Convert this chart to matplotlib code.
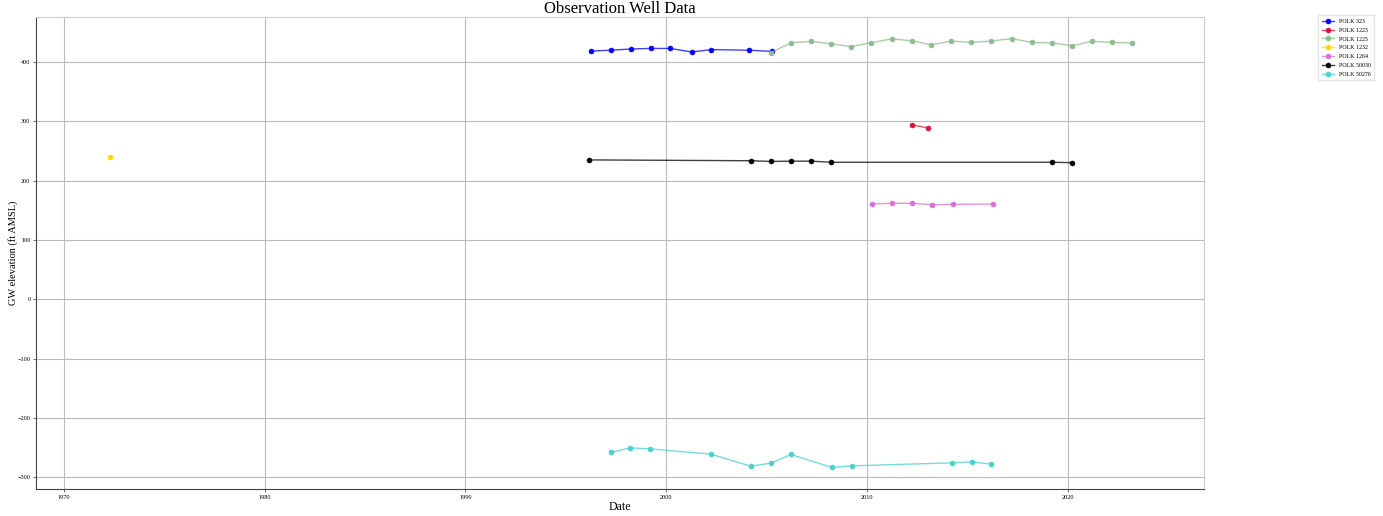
import matplotlib
matplotlib.use("Agg")
import matplotlib.pyplot as plt
import matplotlib.dates as mdates
from matplotlib.colors import to_rgba
import pandas as pd

plt.rcParams['font.family'] = ['Liberation Serif', 'DejaVu Serif']

# ---- data ----
polk_323_dates = ["1996-03-25", "1997-03-25", "1998-03-25", "1999-03-25", "2000-03-15",
                  "2001-04-05", "2002-04-01", "2004-02-15", "2005-04-01"]
polk_323_vals = [418.5, 420, 422, 423, 423, 417, 421, 420, 418]

polk_1223_dates = ["2012-03-28", "2013-01-15"]
polk_1223_vals = [294, 289]

polk_1225_dates = ["2005-03-18", "2006-03-22", "2007-03-22", "2008-03-22", "2009-03-22",
                   "2010-03-15", "2011-03-25", "2012-03-25", "2013-03-10", "2014-03-10",
                   "2015-03-10", "2016-03-05", "2017-03-15", "2018-03-25", "2019-03-25",
                   "2020-03-18", "2021-03-18", "2022-03-15", "2023-03-22"]
polk_1225_vals = [416, 432.5, 435, 431, 426, 432.5, 439, 436, 429, 435.5,
                  433, 435.5, 439.5, 433, 432.5, 427.5, 435, 433, 432.5]

polk_1232_dates = ["1972-04-10"]
polk_1232_vals = [240]

polk_1264_dates = ["2010-04-01", "2011-04-01", "2012-03-28", "2013-04-05", "2014-04-08", "2016-04-08"]
polk_1264_vals = [160.7, 161.8, 161.8, 159.5, 160, 160.7]

polk_50030_dates = ["1996-02-18", "2004-03-25", "2005-03-18", "2006-03-28", "2007-03-22",
                    "2008-03-22", "2019-03-18", "2020-03-18"]
polk_50030_vals = [235, 233.6, 232.4, 232.9, 232.9, 231, 231, 230.4]

polk_50276_dates = ["1997-03-25", "1998-03-15", "1999-03-10", "2002-03-22", "2004-03-18",
                    "2005-03-18", "2006-03-18", "2008-03-28", "2009-03-28", "2014-03-22",
                    "2015-03-22", "2016-03-05"]
polk_50276_vals = [-258.3, -250.6, -252.3, -261.2, -281.5, -276.4, -261.7, -283.6,
                   -281, -275.9, -274.2, -278]

series = [
    ("POLK 323", polk_323_dates, polk_323_vals, "#0000ff"),
    ("POLK 1223", polk_1223_dates, polk_1223_vals, "#dc143c"),
    ("POLK 1225", polk_1225_dates, polk_1225_vals, "#8fbc8f"),
    ("POLK 1232", polk_1232_dates, polk_1232_vals, "#ffd700"),
    ("POLK 1264", polk_1264_dates, polk_1264_vals, "#da70d6"),
    ("POLK 50030", polk_50030_dates, polk_50030_vals, "#000000"),
    ("POLK 50276", polk_50276_dates, polk_50276_vals, "#48d1cc"),
]

y_ticks = [-300, -200, -100, 0, 100, 200, 300, 400]
x_tick_years = [1970, 1980, 1990, 2000, 2010, 2020]

# ---- plot ----
fig = plt.figure(figsize=(13.83, 5.16), dpi=100)
ax = fig.add_axes([36 / 1383, 1 - 489 / 516, (1204 - 36) / 1383, (489 - 17) / 516])

for name, d, v, c in series:
    ax.plot(pd.to_datetime(d), v, color=to_rgba(c, 0.75), marker="o", markersize=3.6,
            markeredgewidth=0.4, markerfacecolor=c, markeredgecolor=c,
            linewidth=1.0, label=name)

ax.set_ylim(-320, 476)
ax.set_xlim(pd.Timestamp("1968-08-10"), pd.Timestamp("2026-10-15"))
ax.set_yticks(y_ticks)
ax.set_xticks([pd.Timestamp(f"{y}-01-01") for y in x_tick_years])
ax.xaxis.set_major_formatter(mdates.DateFormatter("%Y"))
ax.tick_params(labelsize=4.5, length=2, width=0.6, color="#555555", pad=2)

ax.grid(True, color="#bbbbbb", linewidth=0.8)
ax.set_axisbelow(True)

for s in ("top", "right"):
    ax.spines[s].set_color("#cccccc")
for s in ("left", "bottom"):
    ax.spines[s].set_color("#444444")

ax.set_title("Observation Well Data", fontsize=12, pad=2)
ax.set_xlabel("Date", fontsize=8.5, labelpad=1)
ax.set_ylabel("GW elevation (ft AMSL)", fontsize=7.5, labelpad=0)

leg = ax.legend(loc="upper left", bbox_to_anchor=(1.095, 1.01), fontsize=4.3,
                frameon=True, fancybox=False, edgecolor="#dddddd", borderpad=0.6,
                labelspacing=0.6, handlelength=2.1, markerscale=1.0)

fig.savefig("out.png", dpi=100)
